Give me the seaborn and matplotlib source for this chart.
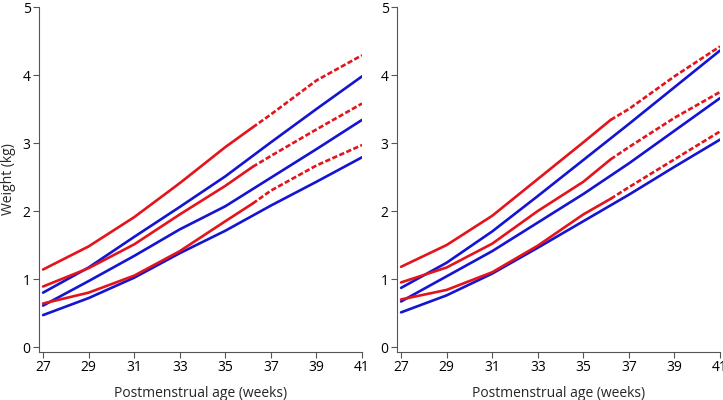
import numpy as np
import pandas as pd
import matplotlib
matplotlib.use("Agg")
import matplotlib.pyplot as plt
import seaborn as sns

# -----------------------------
# Data
# -----------------------------
blue_weeks = [27, 29, 31, 33, 35, 37, 39, 41]
red_weeks = [27, 29, 31, 33, 35, 36.2, 37, 39, 41]
split_week = 36.2  # red curves are solid up to here, dashed after

# left panel
left_blue = {
    "top": [0.80, 1.17, 1.62, 2.06, 2.51, 3.01, 3.50, 3.98],
    "mid": [0.61, 0.97, 1.34, 1.73, 2.07, 2.49, 2.91, 3.34],
    "bot": [0.47, 0.72, 1.02, 1.38, 1.71, 2.08, 2.43, 2.79],
}
left_red = {
    "top": [1.14, 1.48, 1.91, 2.41, 2.94, 3.23, 3.42, 3.92, 4.29],
    "mid": [0.89, 1.16, 1.51, 1.95, 2.37, 2.65, 2.81, 3.20, 3.58],
    "bot": [0.64, 0.80, 1.05, 1.41, 1.85, 2.11, 2.30, 2.67, 2.97],
}

# right panel
right_blue = {
    "top": [0.87, 1.24, 1.70, 2.22, 2.75, 3.28, 3.82, 4.36],
    "mid": [0.67, 1.04, 1.41, 1.83, 2.25, 2.70, 3.18, 3.66],
    "bot": [0.51, 0.76, 1.08, 1.46, 1.85, 2.24, 2.65, 3.05],
}
right_red = {
    "top": [1.18, 1.50, 1.93, 2.47, 3.01, 3.34, 3.50, 3.98, 4.42],
    "mid": [0.95, 1.17, 1.52, 2.00, 2.43, 2.76, 2.94, 3.37, 3.75],
    "bot": [0.70, 0.84, 1.10, 1.49, 1.95, 2.18, 2.35, 2.76, 3.17],
}

x_ticks = [27, 29, 31, 33, 35, 37, 39, 41]
y_ticks = [0, 1, 2, 3, 4, 5]

RED = "#e3141b"
BLUE = "#1414d2"
LW = 1.9

# -----------------------------
# Style
# -----------------------------
sns.set_style("ticks")
plt.rcParams["font.family"] = ["Open Sans", "DejaVu Sans"]
plt.rcParams["axes.edgecolor"] = "#555555"
plt.rcParams["xtick.color"] = "#555555"
plt.rcParams["ytick.color"] = "#555555"
plt.rcParams["xtick.labelcolor"] = "black"
plt.rcParams["ytick.labelcolor"] = "black"

fig = plt.figure(figsize=(7.23, 4.0), dpi=100)
ax_l = fig.add_axes([39 / 723, 48 / 400, 323 / 723, 345 / 400])
ax_r = fig.add_axes([397 / 723, 48 / 400, 323 / 723, 345 / 400])


def draw_panel(ax, blue, red):
    for key in ["top", "mid", "bot"]:
        sns.lineplot(x=blue_weeks, y=blue[key], ax=ax, color=BLUE, lw=LW)
        df = pd.DataFrame({"week": red_weeks, "w": red[key]})
        solid = df[df["week"] <= split_week]
        dashed = df[df["week"] >= split_week]
        sns.lineplot(data=solid, x="week", y="w", ax=ax, color=RED, lw=LW)
        line = sns.lineplot(data=dashed, x="week", y="w", ax=ax, color=RED, lw=LW)
        line.lines[-1].set_dashes([2.0, 0.9])

    ax.set_xlim(26.82, 41.0)
    ax.set_ylim(-0.073, 5.0)
    ax.set_xticks(x_ticks)
    ax.set_yticks(y_ticks)
    ax.tick_params(axis="both", labelsize=10, length=4, width=0.8, pad=2)
    ax.set_xlabel("Postmenstrual age (weeks)", fontsize=10, labelpad=8)
    ax.set_ylabel("")
    for s in ["left", "bottom"]:
        ax.spines[s].set_linewidth(0.8)
    sns.despine(ax=ax)


draw_panel(ax_l, left_blue, left_red)
draw_panel(ax_r, right_blue, right_red)
ax_l.set_ylabel("Weight (kg)", fontsize=10, labelpad=5)

fig.savefig("out.png", dpi=100)
